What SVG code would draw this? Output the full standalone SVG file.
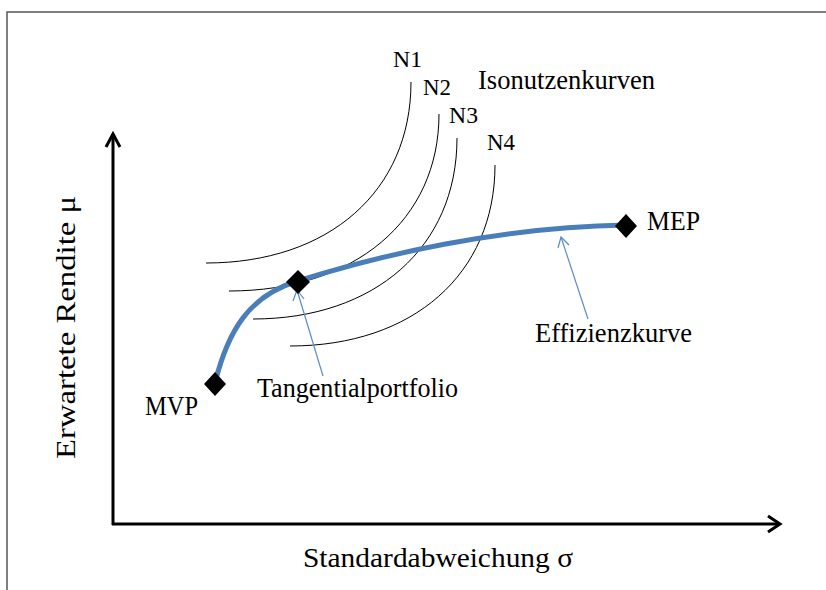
<svg xmlns="http://www.w3.org/2000/svg" width="826" height="590" viewBox="0 0 826 590">
  <style>
    text { font-family: "Liberation Serif", "Times New Roman", serif; fill: #000; }
    .lbl { font-size: 27px; }
    .n { font-size: 23px; }
    .axis { stroke: #000; stroke-width: 3; fill: none; }
    .iso { stroke: #000; stroke-width: 1; fill: none; }
    .eff { stroke: #4A7EBB; stroke-width: 5; fill: none; stroke-linecap: round; }
    .ptr { stroke: #5B8CC8; stroke-width: 1.2; fill: none; }
    .dia { fill: #000; }
  </style>
  <rect width="826" height="590" fill="#fff"/>
  <path d="M7,590 V12 H826" stroke="#555" stroke-width="1.5" fill="none"/>

  <g id="axes">
    <path class="axis" d="M113,525 V134"/>
    <path class="axis" d="M106,147 L113,134 L120,147"/>
    <path class="axis" d="M112,524 H780"/>
    <path class="axis" d="M768,516 L780,524 L768,532"/>
    <text class="lbl" x="303" y="567" textLength="270" lengthAdjust="spacingAndGlyphs">Standardabweichung σ</text>
    <text class="lbl" x="75" y="459" transform="rotate(-90 75 459)" textLength="263" lengthAdjust="spacingAndGlyphs" style="font-size:28px">Erwartete Rendite  μ</text>
  </g>

  <g id="isonutzenkurven">
    <path id="N1-curve" class="iso" d="M411,82 C411,191 329,263 206,263"/>
    <path id="N2-curve" class="iso" d="M439,114 C439,220 355,291 229,291"/>
    <path id="N3-curve" class="iso" d="M457,138 C457,247 375,319 253,319"/>
    <path id="N4-curve" class="iso" d="M495,165 C495,274 413,346 290,346"/>
    <text class="n" x="393" y="67" textLength="29" lengthAdjust="spacingAndGlyphs">N1</text>
    <text class="n" x="423" y="95" textLength="28" lengthAdjust="spacingAndGlyphs">N2</text>
    <text class="n" x="449" y="123" textLength="29" lengthAdjust="spacingAndGlyphs">N3</text>
    <text class="n" x="487" y="150" textLength="28" lengthAdjust="spacingAndGlyphs">N4</text>
    <text class="lbl" x="478" y="89" textLength="177" lengthAdjust="spacingAndGlyphs">Isonutzenkurven</text>
  </g>

  <g id="effizienzkurve">
    <path class="eff" d="M215,383 C228,330 250,295 298,281 C380,255 500,227 626,225"/>
  </g>

  <g id="connectors">
    <path class="ptr" d="M323,376 L297,290"/>
    <path class="ptr" d="M293,301 L297,290 L304,299"/>
    <path class="ptr" d="M588,319 L561,237"/>
    <path class="ptr" d="M558,248 L561,237 L569,245"/>
  </g>

  <g id="MVP">
    <path class="dia" d="M215,372 L226,384 L215,396 L204,384 Z"/>
    <text class="lbl" x="145" y="415" textLength="53" lengthAdjust="spacingAndGlyphs">MVP</text>
  </g>
  <g id="Tangentialportfolio">
    <path class="dia" d="M298,270 L310,282 L298,294 L286,282 Z"/>
    <text class="lbl" x="257" y="397" textLength="201" lengthAdjust="spacingAndGlyphs">Tangentialportfolio</text>
  </g>
  <g id="MEP">
    <path class="dia" d="M626,214 L637,226 L626,238 L615,226 Z"/>
    <text class="lbl" x="647" y="230" textLength="53" lengthAdjust="spacingAndGlyphs">MEP</text>
  </g>
  <g id="Effizienzkurve-label">
    <text class="lbl" x="535" y="342" textLength="157" lengthAdjust="spacingAndGlyphs">Effizienzkurve</text>
  </g>
</svg>
